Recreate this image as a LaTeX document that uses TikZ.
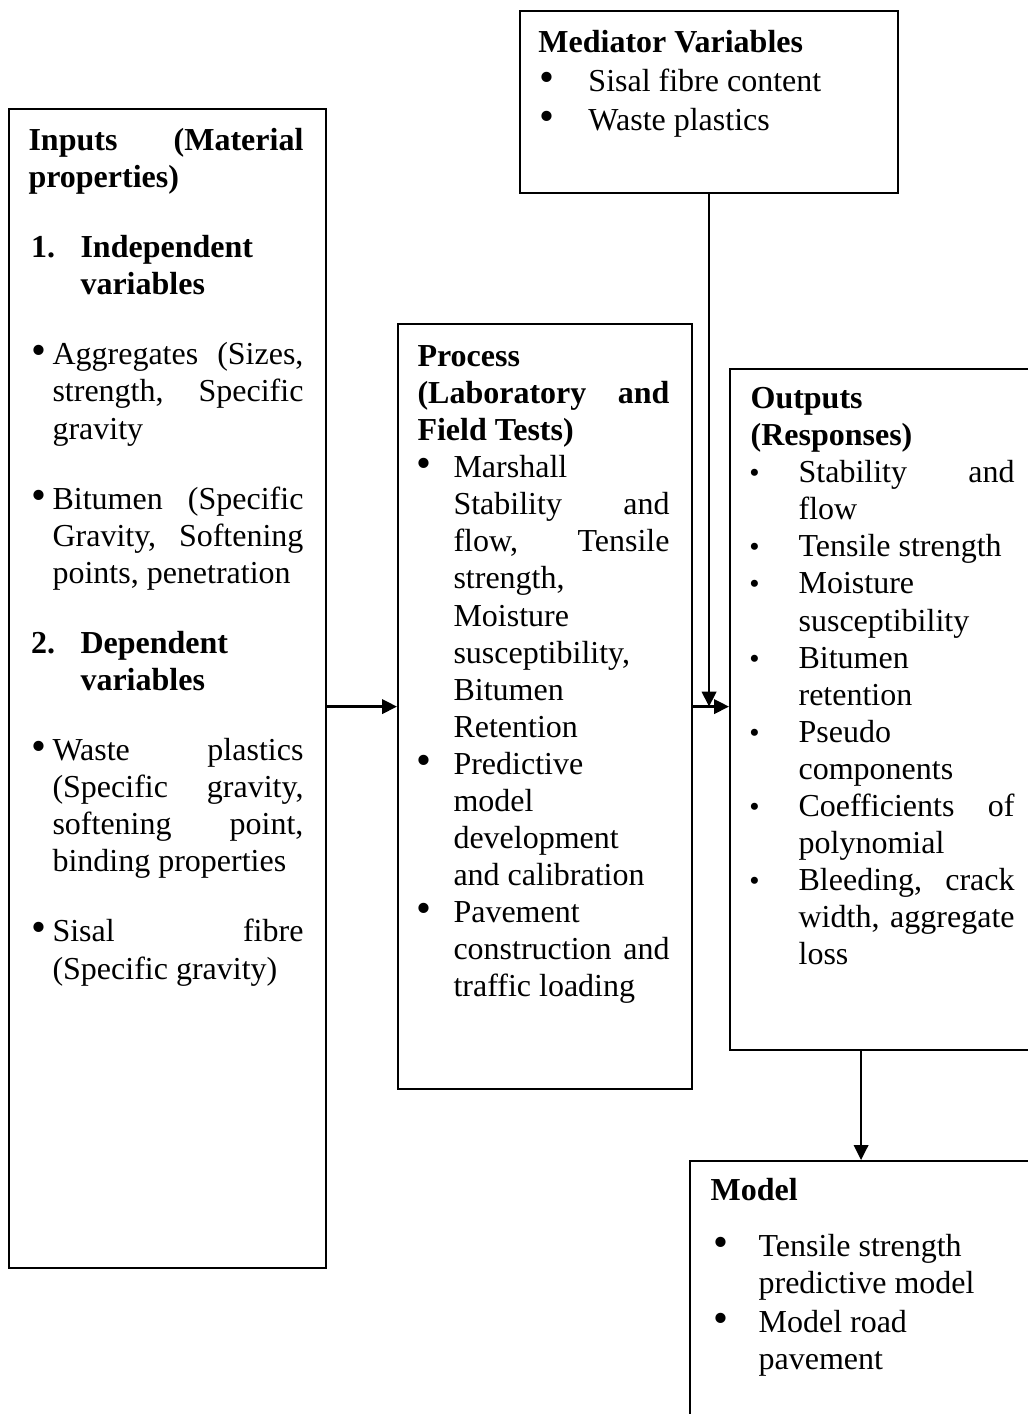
\documentclass[tikz,border=0pt]{standalone}
\usepackage{fontspec}
\setmainfont{Liberation Serif}
\usetikzlibrary{arrows.meta,positioning}

\tolerance=10000
\hbadness=10000
\hyphenpenalty=10000
\adjdemerits=0
\newcommand{\entry}[3]{\par\noindent\hangindent=#1\hangafter=1\makebox[#1][l]{#2}#3\par}
\newcommand{\more}[2]{\par\noindent\hspace*{#1}#2\par}
\newcommand{\bigbul}{{\fontsize{16}{14}\selectfont\textbullet}}
\newcommand{\smallbul}{{\fontsize{11}{11}\selectfont\textbullet}}
\newcommand{\gap}[1]{\par\vskip#1\relax}

\begin{document}
\begin{tikzpicture}[x=0.375pt, y=-0.375pt,
    box/.style={draw, line width=0.8pt, inner sep=0pt, anchor=north west},
    txt/.style={inner sep=0pt, anchor=north west, align=justify,
      font=\fontsize{12}{13.9}\selectfont},
    arr/.style={line width=0.9pt, -{Triangle[length=5.6pt,width=5.4pt]}}]
\useasboundingbox (0,0) rectangle (1028,1414);
\clip (0,0) rectangle (1028,1414);

% boxes
\node[box, minimum width=118.9pt, minimum height=434.6pt] (inputs) at (8,108) {};
\node[box, minimum width=141.75pt, minimum height=68.25pt] (mediator) at (519,10) {};
\node[box, minimum width=110.25pt, minimum height=286.9pt] (process) at (397,323) {};
\node[box, minimum width=116.6pt, minimum height=255.4pt] (outputs) at (729,368) {};
\node[box, minimum width=128.25pt, minimum height=101.25pt] (model) at (689,1160) {};

% texts
\node[txt, text width=103.1pt, below right=6pt and 7.5pt of inputs.north west] (inputstxt) {%
  \noindent\strut\textbf{Inputs (Material\linebreak properties)}
  \gap{12.4pt}
  \entry{19.5pt}{\hspace{1pt}\textbf{1.}}{\textbf{Independent\linebreak variables}}
  \gap{12.4pt}
  \entry{9pt}{\hspace{1pt}\bigbul}{Aggregates (Sizes,\linebreak strength, Specific\linebreak gravity}
  \gap{12.4pt}
  \entry{9pt}{\hspace{1pt}\bigbul}{Bitumen (Specific\linebreak Gravity, Softening\linebreak points, penetration}
  \gap{12.4pt}
  \entry{19.5pt}{\hspace{1pt}\textbf{2.}}{\textbf{Dependent\linebreak variables}}
  \gap{12.4pt}
  \entry{9pt}{\hspace{1pt}\bigbul}{Waste plastics\linebreak (Specific gravity,\linebreak softening point,\linebreak binding properties}
  \gap{12.4pt}
  \entry{9pt}{\hspace{1pt}\bigbul}{Sisal fibre\linebreak (Specific gravity)}};

\node[txt, text width=127.5pt, font=\fontsize{12}{14.6}\selectfont,
  below right=5.5pt and 7.1pt of mediator.north west] (mediatortxt) {%
  \noindent\strut\textbf{Mediator Variables}\par
  \entry{18.75pt}{\hspace{0.5pt}\bigbul}{Sisal fibre content}
  \entry{18.75pt}{\hspace{0.5pt}\bigbul}{Waste plastics}};

\node[txt, text width=94.5pt, below right=6.4pt and 7.5pt of process.north west] (processtxt) {%
  \noindent\strut\textbf{Process\linebreak (Laboratory and\linebreak Field Tests)}\par
  \entry{13.5pt}{\hspace{-0.5pt}\bigbul}{Marshall\linebreak Stability and\linebreak flow, Tensile\linebreak strength,\linebreak Moisture\linebreak susceptibility,\linebreak Bitumen\linebreak Retention}
  \entry{13.5pt}{\hspace{-0.5pt}\bigbul}{Predictive\linebreak model\linebreak development\linebreak and calibration}
  \entry{13.5pt}{\hspace{-0.5pt}\bigbul}{Pavement\linebreak construction and\linebreak traffic loading}};

\node[txt, text width=99pt, below right=5.3pt and 7.9pt of outputs.north west] (outputstxt) {%
  \noindent\strut\textbf{Outputs\linebreak (Responses)}\par
  \entry{18pt}{\hspace{-0.5pt}\smallbul}{Stability and\linebreak flow}
  \entry{18pt}{\hspace{-0.5pt}\smallbul}{Tensile strength}
  \entry{18pt}{\hspace{-0.5pt}\smallbul}{Moisture\linebreak susceptibility}
  \entry{18pt}{\hspace{-0.5pt}\smallbul}{Bitumen\linebreak retention}
  \entry{18pt}{\hspace{-0.5pt}\smallbul}{Pseudo\linebreak components}
  \entry{18pt}{\hspace{-0.5pt}\smallbul}{Coefficients of\linebreak polynomial}
  \entry{18pt}{\hspace{-0.5pt}\smallbul}{Bleeding, crack\linebreak width, aggregate\linebreak loss}};

\node[txt, text width=112.5pt, below right=5.3pt and 7.9pt of model.north west] (modeltxt) {%
  \noindent\strut\textbf{Model}
  \gap{7pt}
  \entry{18pt}{\hspace{1pt}\bigbul}{Tensile strength}
  \more{18pt}{predictive model}
  \gap{0.8pt}
  \entry{18pt}{\hspace{1pt}\bigbul}{Model road}
  \more{18pt}{pavement}};

% arrows
\draw[arr] (inputs.east |- process.west) -- (process.west);
\draw[arr] (process.east) -- (process.east -| outputs.west);
\draw[arr] (mediator.south) -- (mediator.south |- process.east);
\draw[arr] (outputs.south -| model.north) -- (model.north);
\end{tikzpicture}
\end{document}
